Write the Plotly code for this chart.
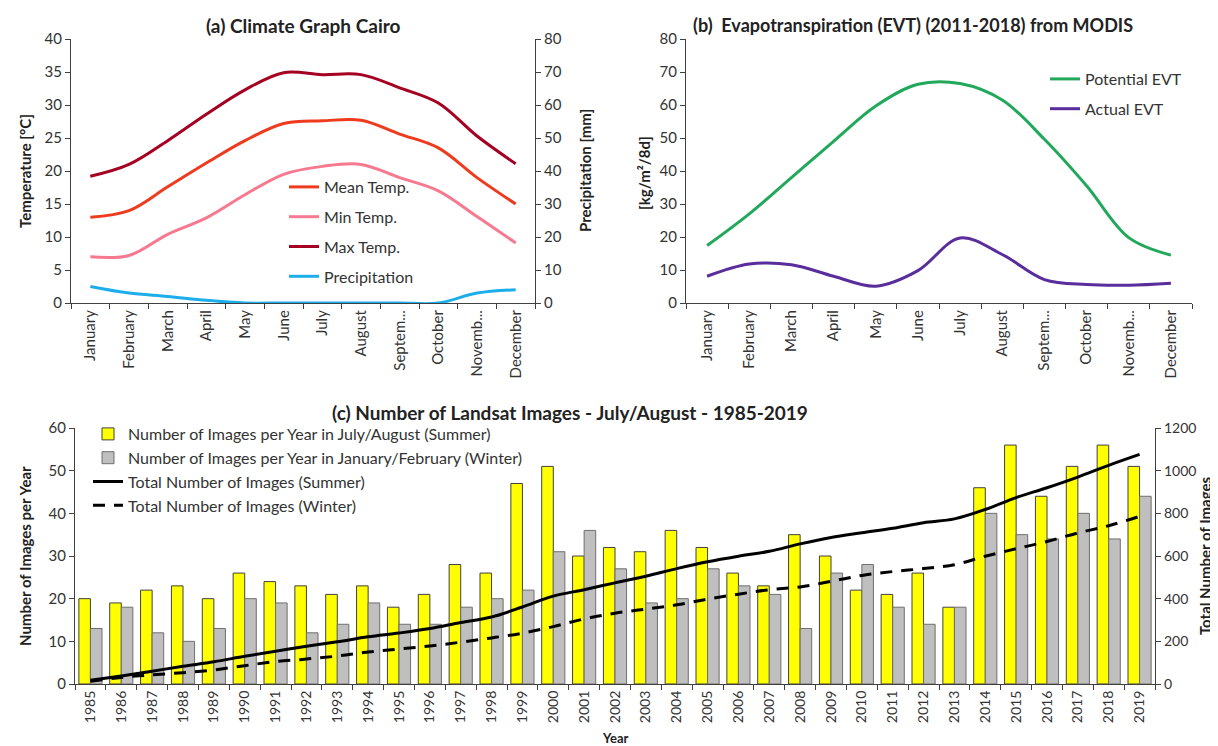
import plotly.graph_objects as go

W, H = 1218, 746

# ---------------- data ----------------
months = ["January", "February", "March", "April", "May", "June", "July",
          "August", "Septem...", "October", "Novemb...", "December"]
mean_temp = [13.0, 14.0, 17.6, 21.2, 24.6, 27.2, 27.6, 27.7, 25.6, 23.5, 19.0, 15.0]
min_temp = [7.0, 7.2, 10.4, 12.9, 16.4, 19.5, 20.7, 21.0, 19.0, 17.0, 13.1, 9.1]
max_temp = [19.2, 21.0, 24.6, 28.6, 32.3, 34.9, 34.6, 34.6, 32.6, 30.3, 25.3, 21.1]
precip_mm = [5.0, 3.0, 2.0, 0.8, 0.0, 0.0, 0.0, 0.0, 0.0, 0.0, 3.0, 4.0]

potential_evt = [17.4, 27.0, 38.0, 49.0, 59.7, 66.3, 66.5, 61.5, 49.6, 35.5, 19.8, 14.5]
actual_evt = [8.1, 11.8, 11.6, 8.1, 5.1, 9.8, 19.7, 14.7, 7.1, 5.6, 5.4, 6.0]

years = ["1985", "1986", "1987", "1988", "1989", "1990", "1991", "1992", "1993",
         "1994", "1995", "1996", "1997", "1998", "1999", "2000", "2001", "2002",
         "2003", "2004", "2005", "2006", "2007", "2008", "2009", "2010", "2011",
         "2012", "2013", "2014", "2015", "2016", "2017", "2018", "2019"]
summer_images = [20, 19, 22, 23, 20, 26, 24, 23, 21, 23, 18, 21, 28, 26, 47, 51, 30, 32,
                 31, 36, 32, 26, 23, 35, 30, 22, 21, 26, 18, 46, 56, 44, 51, 56, 51]
winter_images = [13, 18, 12, 10, 13, 20, 19, 12, 14, 19, 14, 14, 18, 20, 22, 31, 36, 27,
                 19, 20, 27, 23, 21, 13, 26, 28, 18, 14, 18, 40, 35, 34, 40, 34, 44]
summer_total = [18, 38, 60, 83, 104, 130, 154, 177, 198, 221, 239, 260, 288, 314, 361, 412,
                442, 474, 505, 541, 573, 599, 622, 657, 687, 709, 730, 756, 774, 818, 874,
                920, 970, 1025, 1076]
winter_total = [13, 31, 43, 53, 66, 86, 105, 117, 131, 150, 164, 178, 196, 216, 238, 269,
                305, 332, 351, 371, 398, 421, 442, 455, 481, 509, 527, 541, 559, 599, 634,
                668, 708, 742, 786]

# ---------------- helpers ----------------
def px(x):
    return x / W

def py(y):
    return 1 - y / H

FONT = "Lato"
TXT = "#333333"
AXC = "#404040"

fig = go.Figure()

# (a) climate graph
fig.add_trace(go.Scatter(x=months, y=mean_temp, name="Mean Temp.", mode="lines",
                         line=dict(color="#EE3B1E", width=3, shape="spline"),
                         xaxis="x", yaxis="y", legend="legend", legendgroup="a1"))
fig.add_trace(go.Scatter(x=months, y=min_temp, name="Min Temp.", mode="lines",
                         line=dict(color="#F7798F", width=3, shape="spline"),
                         xaxis="x", yaxis="y", legend="legend", legendgroup="a2"))
fig.add_trace(go.Scatter(x=months, y=max_temp, name="Max Temp.", mode="lines",
                         line=dict(color="#A50021", width=3, shape="spline"),
                         xaxis="x", yaxis="y", legend="legend", legendgroup="a3"))
fig.add_trace(go.Scatter(x=months, y=precip_mm, name="Precipitation", mode="lines",
                         line=dict(color="#1BAEEB", width=3, shape="spline"),
                         xaxis="x", yaxis="y2", legend="legend", legendgroup="a4"))

# (b) evapotranspiration
fig.add_trace(go.Scatter(x=months, y=potential_evt, name="Potential EVT", mode="lines",
                         line=dict(color="#21A85A", width=3, shape="spline"),
                         xaxis="x2", yaxis="y3", legend="legend2", legendgroup="b1"))
fig.add_trace(go.Scatter(x=months, y=actual_evt, name="Actual EVT", mode="lines",
                         line=dict(color="#5A2D9C", width=3, shape="spline"),
                         xaxis="x2", yaxis="y3", legend="legend2", legendgroup="b2"))

# (c) Landsat images
fig.add_trace(go.Bar(x=years, y=summer_images,
                     name="Number of Images per Year in July/August (Summer)",
                     marker=dict(color="#FFFF00", line=dict(color="#404040", width=1)),
                     xaxis="x3", yaxis="y4", legend="legend3", legendgroup="c1"))
fig.add_trace(go.Bar(x=years, y=winter_images,
                     name="Number of Images per Year in January/February (Winter)",
                     marker=dict(color="#BFBFBF", line=dict(color="#6F6F6F", width=1)),
                     xaxis="x3", yaxis="y4", legend="legend3", legendgroup="c2"))
fig.add_trace(go.Scatter(x=years, y=summer_total, name="Total Number of Images (Summer)",
                         mode="lines", line=dict(color="#000000", width=3, shape="spline"),
                         xaxis="x3", yaxis="y5", legend="legend3", legendgroup="c3"))
fig.add_trace(go.Scatter(x=years, y=winter_total, name="Total Number of Images (Winter)",
                         mode="lines",
                         line=dict(color="#000000", width=3, shape="spline", dash="12px,9px"),
                         xaxis="x3", yaxis="y5", legend="legend3", legendgroup="c4"))

def tf(size):
    return dict(family=FONT, size=size, color=TXT)

def xcat(domain, anchor, font, n):
    return dict(domain=domain, anchor=anchor, type="category", tickson="boundaries",
                range=[-0.5, n - 0.5],
                ticks="outside", ticklen=5, tickcolor=AXC, showline=True, linecolor=AXC,
                linewidth=1.2, showgrid=False, zeroline=False, tickangle=-90,
                tickfont=font, automargin=False, fixedrange=True)

def yax(domain, anchor, rng, dtick, font, side="left", overlaying=None):
    d = dict(domain=domain, anchor=anchor, range=rng, dtick=dtick, side=side,
             ticks="outside", ticklen=5, tickcolor=AXC, showline=True, linecolor=AXC,
             linewidth=1.2, showgrid=False, zeroline=False, tickfont=font,
             automargin=False, fixedrange=True)
    if overlaying:
        d["overlaying"] = overlaying
    return d

dom_ya = [py(295), py(31)]
dom_yc = [py(676), py(420)]

y5 = yax(dom_yc, "x3", [0, 1200], 200, tf(14), side="right", overlaying="y4")
y5["title"] = dict(text="Total Number of Images", standoff=4,
                   font=dict(family=FONT, size=15, color="#222222", weight="bold"))

fig.update_layout(
    width=W, height=H, template="none",
    paper_bgcolor="white", plot_bgcolor="rgba(0,0,0,0)",
    margin=dict(l=0, r=0, t=0, b=0),
    font=dict(family=FONT, size=15, color=TXT),
    barmode="group", bargap=0.25, bargroupgap=0.0,
    xaxis=xcat([px(63), px(527)], "y", tf(15), len(months)),
    yaxis=yax(dom_ya, "x", [0, 40], 5, tf(15)),
    yaxis2=yax(dom_ya, "x", [0, 80], 10, tf(15), side="right", overlaying="y"),
    xaxis2=xcat([px(678), px(1184)], "y3", tf(15), len(months)),
    yaxis3=yax(dom_ya, "x2", [0, 80], 10, tf(15)),
    xaxis3=xcat([px(67), px(1147)], "y4", tf(14), len(years)),
    yaxis4=yax(dom_yc, "x3", [0, 60], 10, tf(15)),
    yaxis5=y5,
    legend=dict(x=px(276), y=py(162), xanchor="left", yanchor="top",
                bgcolor="rgba(0,0,0,0)", traceorder="grouped", tracegroupgap=6,
                font=tf(16)),
    legend2=dict(x=px(1037), y=py(54), xanchor="left", yanchor="top",
                 bgcolor="rgba(0,0,0,0)", traceorder="grouped", tracegroupgap=6,
                 font=tf(16)),
    legend3=dict(x=px(80), y=py(409), xanchor="left", yanchor="top",
                 bgcolor="rgba(0,0,0,0)", traceorder="grouped", tracegroupgap=0,
                 font=tf(16)),
    showlegend=True,
)

def ann(text, x, y, size=19, bold=True, angle=0, xanchor="center", yanchor="middle"):
    fig.add_annotation(text=text, x=px(x), y=py(y), xref="paper", yref="paper",
                       showarrow=False, textangle=angle, xanchor=xanchor, yanchor=yanchor,
                       font=dict(family=FONT, size=size, color="#222222",
                                 weight="bold" if bold else "normal"))

ann("(a) Climate Graph Cairo", 295, 17)
ann("(b)  Evapotranspiration (EVT) (2011-2018) from MODIS", 683, 17, size=18, xanchor="left")
ann("(c) Number of Landsat Images - July/August - 1985-2019", 562, 404, size=19)
ann("Temperature [°C]", 17, 163, size=15, angle=-90)
ann("Precipitation [mm]", 577, 163, size=15, angle=-90)
ann("[kg/m²/8d]", 636, 165, size=15, angle=-90)
ann("Number of Images per Year", 17, 548, size=15, angle=-90)
ann("Year", 607, 740, size=13, yanchor="bottom")

fig.write_html("out.html")
